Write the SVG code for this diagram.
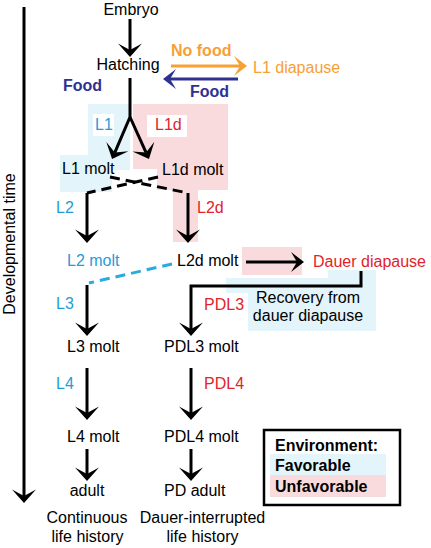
<svg xmlns="http://www.w3.org/2000/svg" width="431" height="548" viewBox="0 0 431 548">
<style>
text{font-family:"Liberation Sans",Arial,Helvetica,sans-serif;font-size:16px;fill:#000}
.b{font-weight:bold}
.navy{fill:#2e3192}
.orange{fill:#f7a033}
.blue{fill:#279bd6}
.red{fill:#e2232a}
.mid{text-anchor:middle}
.ln{fill:none;stroke:#000;stroke-width:3}
.dash{fill:none;stroke:#000;stroke-width:3;stroke-dasharray:10 6}
.bdash{fill:none;stroke:#29abe2;stroke-width:3;stroke-dasharray:10 6}
.bgb{fill:#e3f4fb}
.bgp{fill:#f9dbdd}
</style>
<defs>
<marker id="ah" markerUnits="userSpaceOnUse" viewBox="-14 -13 15 26" markerWidth="15" markerHeight="26" refX="-7" refY="0" orient="auto" overflow="visible">
<path d="M0,0 L-13.5,-12 L-7,0 L-13.5,12 Z" fill="#000"/>
</marker>
<marker id="aho" markerUnits="userSpaceOnUse" viewBox="-14 -13 15 26" markerWidth="15" markerHeight="26" refX="-7" refY="0" orient="auto" overflow="visible">
<path d="M0,0 L-13,-10 L-7,0 L-13,10 Z" fill="#f7a033"/>
</marker>
<marker id="ahn" markerUnits="userSpaceOnUse" viewBox="-14 -13 15 26" markerWidth="15" markerHeight="26" refX="-7" refY="0" orient="auto" overflow="visible">
<path d="M0,0 L-13,-10 L-7,0 L-13,10 Z" fill="#2e3192"/>
</marker>
<marker id="ahs" markerUnits="userSpaceOnUse" viewBox="-14 -13 15 26" markerWidth="15" markerHeight="26" refX="-7" refY="0" orient="auto" overflow="visible">
<path d="M0,0 L-13,-10 L-7,0 L-13,10 Z" fill="#000"/>
</marker>
</defs>

<g id="backgrounds">
<rect class="bgb" x="88" y="104" width="42" height="66"/>
<rect class="bgb" x="60" y="155" width="52" height="37"/>
<rect class="bgp" x="133" y="104" width="95" height="65"/>
<rect class="bgp" x="157" y="169" width="71" height="21"/>
<rect class="bgp" x="173" y="190" width="25" height="52"/>
<rect fill="#fff" x="93" y="114" width="21" height="22"/>
<rect fill="#fff" x="147" y="115" width="40" height="22"/>
<rect class="bgp" x="242" y="247" width="60" height="28"/>
<rect class="bgb" x="328" y="270" width="48" height="10"/>
<rect class="bgb" x="226" y="278" width="150" height="15"/>
<rect class="bgb" x="248" y="278" width="128" height="53"/>
</g>

<g id="axis">
<line class="ln" x1="24" y1="7" x2="24" y2="496" marker-end="url(#ah)"/>
<text class="mid" transform="translate(15,244) rotate(-90)">Developmental time</text>
</g>

<g id="connectors">
<line class="ln" x1="130" y1="19" x2="130" y2="50" marker-end="url(#ah)"/>
<path class="ln" d="M130,78 L130,117 L114.8,152.6" marker-end="url(#ah)"/>
<path class="ln" d="M130,117 L146.1,152.6" marker-end="url(#ah)"/>
<line stroke="#f7a033" stroke-width="3" x1="171" y1="66" x2="240" y2="66" marker-end="url(#aho)"/>
<line stroke="#2e3192" stroke-width="3" x1="238" y1="79" x2="170" y2="79" marker-end="url(#ahn)"/>
<line class="dash" x1="110" y1="177" x2="188" y2="193"/>
<line class="dash" x1="158" y1="177" x2="87" y2="193"/>
<line class="ln" x1="87" y1="193" x2="87" y2="236" marker-end="url(#ah)"/>
<line class="ln" x1="188" y1="193" x2="188" y2="236" marker-end="url(#ah)"/>
<line class="bdash" x1="172" y1="264" x2="89" y2="283"/>
<line class="ln" x1="246" y1="262" x2="297" y2="262" marker-end="url(#ahs)"/>
<path class="ln" d="M361,271 V286 H191 V329" marker-end="url(#ah)"/>
<line class="ln" x1="87" y1="285" x2="87" y2="329" marker-end="url(#ah)"/>
<line class="ln" x1="87" y1="368" x2="87" y2="413" marker-end="url(#ah)"/>
<line class="ln" x1="191" y1="368" x2="191" y2="413" marker-end="url(#ah)"/>
<line class="ln" x1="87" y1="449" x2="87" y2="474" marker-end="url(#ah)"/>
<line class="ln" x1="191" y1="449" x2="191" y2="474" marker-end="url(#ah)"/>
</g>

<g id="embryo"><text class="mid" x="131" y="15">Embryo</text></g>
<g id="hatching"><text class="mid" x="128" y="70">Hatching</text></g>
<g id="food-left"><text class="b navy" x="63" y="91">Food</text></g>
<g id="no-food"><text class="b orange" x="171" y="56">No food</text></g>
<g id="l1-diapause"><text class="orange" x="253" y="73">L1 diapause</text></g>
<g id="food-right"><text class="b navy" x="190" y="97">Food</text></g>
<g id="l1"><text class="blue" x="95" y="130">L1</text></g>
<g id="l1d"><text class="red" x="155" y="130">L1d</text></g>
<g id="l1-molt"><text x="62" y="174">L1 molt</text></g>
<g id="l1d-molt"><text x="162" y="175">L1d molt</text></g>
<g id="l2"><text class="blue" x="56" y="213">L2</text></g>
<g id="l2d"><text class="red" x="197" y="213">L2d</text></g>
<g id="l2-molt"><text class="blue" x="67" y="266">L2 molt</text></g>
<g id="l2d-molt"><text x="177" y="266">L2d molt</text></g>
<g id="dauer-diapause"><text class="red" x="313" y="267">Dauer diapause</text></g>
<g id="recovery"><text class="mid" x="308" y="303">Recovery from</text><text class="mid" x="308" y="321">dauer diapause</text></g>
<g id="l3"><text class="blue" x="56" y="309">L3</text></g>
<g id="pdl3"><text class="red" x="204" y="310">PDL3</text></g>
<g id="l3-molt"><text x="67" y="352">L3 molt</text></g>
<g id="pdl3-molt"><text x="164" y="352">PDL3 molt</text></g>
<g id="l4"><text class="blue" x="56" y="389">L4</text></g>
<g id="pdl4"><text class="red" x="204" y="389">PDL4</text></g>
<g id="l4-molt"><text x="67" y="442">L4 molt</text></g>
<g id="pdl4-molt"><text x="164" y="442">PDL4 molt</text></g>
<g id="adult"><text class="mid" x="87" y="496">adult</text></g>
<g id="pd-adult"><text x="164" y="496">PD adult</text></g>
<g id="continuous"><text class="mid" x="87" y="523">Continuous</text><text class="mid" x="87.5" y="542">life history</text></g>
<g id="dauer-interrupted"><text class="mid" x="202.5" y="523">Dauer-interrupted</text><text class="mid" x="202.5" y="542">life history</text></g>

<g id="legend">
<rect x="264" y="430" width="136" height="75" fill="#fff" stroke="#000" stroke-width="2.5"/>
<rect class="bgb" x="270" y="454" width="116" height="21"/>
<rect class="bgp" x="270" y="475" width="116" height="22"/>
<text class="b" x="275" y="451">Environment:</text>
<text class="b" x="275" y="471">Favorable</text>
<text class="b" x="275" y="492">Unfavorable</text>
</g>
</svg>
